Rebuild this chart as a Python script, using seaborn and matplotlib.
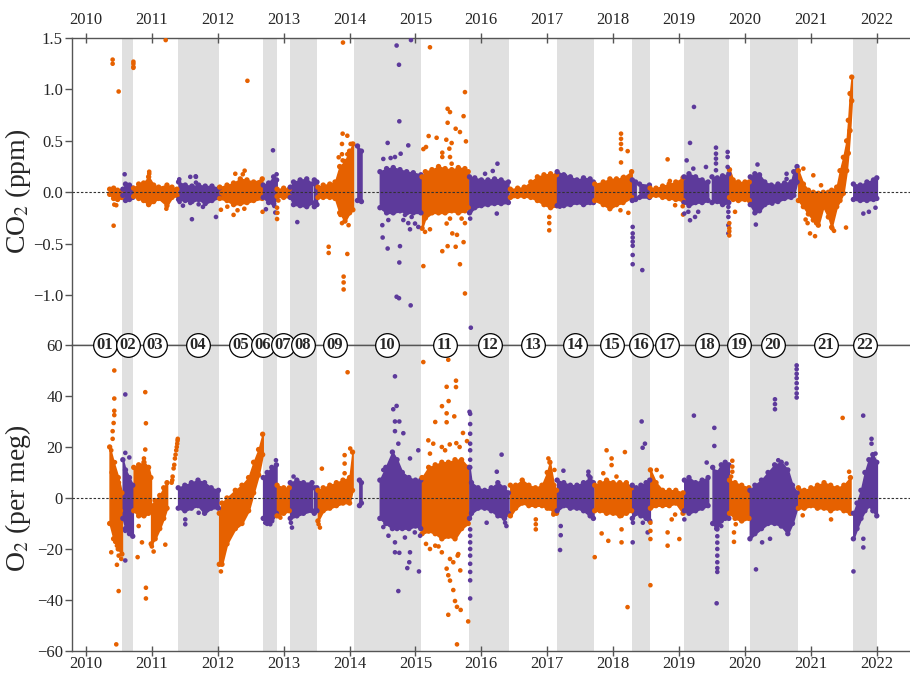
import bisect
import numpy as np
import pandas as pd
import matplotlib
matplotlib.use("Agg")
import matplotlib.pyplot as plt
from matplotlib.ticker import FuncFormatter
import seaborn as sns

# ---------------- data ----------------
YEARS = list(range(2010, 2023))
PERIOD_LABELS = ["%02d" % i for i in range(1, 23)]
# boundaries between periods (decimal year); period i spans BOUNDS[i-1]..BOUNDS[i]
BOUNDS = [2010.30, 2010.551, 2010.713, 2011.396, 2012.014, 2012.686, 2012.898,
          2013.096, 2013.510, 2014.062, 2015.083, 2015.816, 2016.419, 2017.143,
          2017.709, 2018.285, 2018.558, 2019.074, 2019.757, 2020.071, 2020.804,
          2021.643, 2022.003]
LABEL_T = [2010.288, 2010.633, 2011.047, 2011.700, 2012.352, 2012.686, 2012.989,
           2013.293, 2013.778, 2014.568, 2015.448, 2016.131, 2016.783, 2017.421,
           2017.982, 2018.422, 2018.816, 2019.423, 2019.909, 2020.425, 2021.229,
           2021.821]

# CO2 residual core band (time nodes, lower and upper edge), segments split by None
CO2_T = [
    2010.36, 2010.42, 2010.48, 2010.545, None,
    2010.56, 2010.60, 2010.66, 2010.71, None,
    2010.723, 2010.80, 2010.875, 2010.951, 2011.027, 2011.103, 2011.229, 2011.305, 2011.38, None,
    2011.406, 2011.507, 2011.608, 2011.71, 2011.81, 2011.912, 2012.02, None,
    2012.03, 2012.14, 2012.24, 2012.342, 2012.443, 2012.544, 2012.675, None,
    2012.69, 2012.772, 2012.848, 2012.893, None,
    2012.90, 2013.0, 2013.085, None,
    2013.10, 2013.15, 2013.25, 2013.35, 2013.43, None,
    2013.465, 2013.505, None,
    2013.52, 2013.60, 2013.70, 2013.78, 2013.85, 2013.93, 2014.0, 2014.05, None,
    2014.12, 2014.18, None,
    2014.461, 2014.562, 2014.663, 2014.765, 2014.866, 2014.967, 2015.083, None,
    2015.10, 2015.15, 2015.25, 2015.35, 2015.45, 2015.55, 2015.65, 2015.75, 2015.80, None,
    2015.82, 2015.9, 2016.0, 2016.1, 2016.2, 2016.3, 2016.41, None,
    2016.44, 2016.55, 2016.65, 2016.75, 2016.85, 2016.95, 2017.05, 2017.14, None,
    2017.15, 2017.25, 2017.35, 2017.45, 2017.55, 2017.65, 2017.70, None,
    2017.72, 2017.85, 2017.95, 2018.05, 2018.15, 2018.28, None,
    2018.29, 2018.34, None,
    2018.40, 2018.55, None,
    2018.56, 2018.65, 2018.75, 2018.85, 2018.95, 2019.06, None,
    2019.075, 2019.15, 2019.25, 2019.35, 2019.44, None,
    2019.50, 2019.58, 2019.66, 2019.755, None,
    2019.765, 2019.82, 2019.9, 2020.0, 2020.065, None,
    2020.08, 2020.15, 2020.22, 2020.30, 2020.40, 2020.50, 2020.60, 2020.70, 2020.74, 2020.79, None,
    2020.81, 2020.886, 2020.962, 2021.037, 2021.113, 2021.189, 2021.265, 2021.315, 2021.392, 2021.442, 2021.493, 2021.543, 2021.568, 2021.594, 2021.62, None,
    2021.645, 2021.75, 2021.85, 2021.95, 2022.0,
]
CO2_LO = [
    -0.02, -0.06, -0.07, -0.05, None,
    -0.03, -0.08, -0.07, -0.05, None,
    -0.04, -0.06, -0.08, -0.12, -0.09, -0.06, -0.13, -0.05, -0.03, None,
    -0.07, -0.08, -0.09, -0.07, -0.11, -0.08, -0.05, None,
    -0.06, -0.08, -0.12, -0.11, -0.10, -0.08, -0.06, None,
    -0.05, -0.10, -0.11, -0.06, None,
    -0.04, -0.05, -0.04, None,
    -0.05, -0.12, -0.13, -0.14, -0.10, None,
    -0.14, -0.12, None,
    -0.05, -0.05, -0.05, -0.06, -0.20, -0.28, -0.20, -0.17, None,
    -0.08, -0.09, None,
    -0.15, -0.20, -0.20, -0.18, -0.20, -0.20, -0.20, None,
    -0.35, -0.25, -0.20, -0.20, -0.20, -0.18, -0.20, -0.18, -0.15, None,
    -0.20, -0.15, -0.13, -0.12, -0.11, -0.11, -0.10, None,
    -0.05, -0.04, -0.04, -0.05, -0.08, -0.12, -0.15, -0.13, None,
    -0.13, -0.13, -0.12, -0.10, -0.12, -0.10, -0.10, None,
    -0.08, -0.12, -0.16, -0.12, -0.10, -0.05, None,
    -0.08, -0.07, None,
    -0.05, -0.05, None,
    -0.04, -0.03, -0.05, -0.06, -0.07, -0.08, None,
    -0.10, -0.13, -0.10, -0.10, -0.08, None,
    -0.10, -0.09, -0.12, -0.10, None,
    -0.05, -0.07, -0.08, -0.07, -0.08, None,
    -0.12, -0.20, -0.18, -0.12, -0.10, -0.09, -0.06, -0.05, -0.03, 0.10, None,
    -0.08, -0.14, -0.21, -0.27, -0.32, -0.14, -0.24, -0.34, -0.14, -0.08, -0.01, 0.21, 0.38, 0.60, 0.89, None,
    -0.07, -0.08, -0.08, -0.07, -0.06,
]
CO2_HI = [
    0.03, 0.04, 0.02, 0.01, None,
    0.03, 0.08, 0.07, 0.04, None,
    0.04, 0.08, 0.09, 0.15, 0.07, 0.05, 0.07, 0.05, 0.03, None,
    0.10, 0.07, 0.06, 0.07, 0.06, 0.06, 0.04, None,
    0.05, 0.07, 0.09, 0.13, 0.12, 0.10, 0.13, None,
    0.07, 0.09, 0.15, 0.12, None,
    0.03, 0.04, 0.03, None,
    0.05, 0.10, 0.12, 0.13, 0.08, None,
    0.12, 0.10, None,
    0.05, 0.07, 0.08, 0.10, 0.25, 0.30, 0.40, 0.47, None,
    0.45, 0.40, None,
    0.20, 0.23, 0.24, 0.22, 0.20, 0.19, 0.17, None,
    0.15, 0.20, 0.22, 0.25, 0.23, 0.22, 0.24, 0.23, 0.20, None,
    0.15, 0.14, 0.12, 0.12, 0.13, 0.12, 0.10, None,
    0.03, 0.04, 0.05, 0.10, 0.15, 0.17, 0.18, 0.17, None,
    0.20, 0.17, 0.15, 0.12, 0.14, 0.13, 0.10, None,
    0.08, 0.10, 0.13, 0.13, 0.14, 0.20, None,
    0.12, 0.10, None,
    0.08, 0.07, None,
    0.04, 0.04, 0.06, 0.08, 0.10, 0.14, None,
    0.15, 0.18, 0.15, 0.12, 0.10, None,
    0.15, 0.14, 0.16, 0.18, None,
    0.22, 0.12, 0.10, 0.10, 0.10, None,
    0.15, 0.18, 0.17, 0.10, 0.07, 0.08, 0.09, 0.10, 0.20, 0.25, None,
    0.21, 0.08, 0.02, 0.00, -0.01, 0.00, 0.00, 0.02, 0.05, 0.21, 0.34, 0.50, 0.70, 0.96, 1.12, None,
    0.08, 0.07, 0.10, 0.12, 0.14,
]

# CO2 individual scattered points
CO2_PT_T = [
    2010.43, 2010.46, 2010.42, 2010.405, 2010.405, 2010.496,
    2010.587,
    2010.72, 2010.72, 2010.72, 2010.72, 2010.96, 2010.96, 2011.22, 2011.21,
    2011.421, 2011.472, 2011.583, 2011.669, 2011.669, 2011.416, 2011.608, 2011.71, 2011.775, 2011.836, 2011.973, 2011.583, 2011.665,
    2012.266, 2012.408, 2012.048, 2012.145, 2012.24, 2012.30, 2012.403, 2012.68, 2012.45, 2012.38,
    2012.731, 2012.858, 2012.873, 2012.838, 2012.893,
    2012.90, 2012.905, 2012.90, 2012.92,
    2013.207,
    2013.683, 2013.683, 2013.895, 2013.966, 2014.016, 2013.885, 2013.885, 2013.835, 2013.895, 2013.966, 2013.966, 2013.91, 2013.91, 2013.91, 2013.86, 2013.885, 2013.985, 2013.90,
    2014.714, 2014.75, 2014.755, 2014.578, 2014.891, 2014.775, 2014.512, 2014.623, 2014.689, 2014.497, 2014.502, 2014.578, 2014.765, 2014.755, 2014.714, 2014.75, 2014.927, 2014.816, 2014.891, 2014.942, 2015.043, 2014.917, 2014.993, 2014.588, 2014.841, 2014.932,
    2015.22, 2015.751, 2015.488, 2015.524, 2015.73, 2015.488, 2015.61, 2015.675, 2015.20, 2015.321, 2015.468, 2015.549, 2015.766, 2015.12, 2015.16, 2015.407, 2015.407, 2015.514, 2015.524, 2015.549,
    2015.12, 2015.407, 2015.488, 2015.559, 2015.63, 2015.61, 2015.73, 2015.675, 2015.751, 2015.473, 2015.524, 2015.145, 2015.22, 2015.70, 2015.751,
    2016.244, 2016.173, 2015.83, 2015.83, 2015.84, 2016.234, 2016.056,
    2017.03, 2017.03, 2017.03,
    2017.27, 2017.19,
    2018.119, 2018.119, 2018.119, 2018.119, 2018.119, 2018.22, 2018.23, 2018.16, 2018.11,
    2018.296, 2018.296, 2018.296, 2018.296, 2018.296, 2018.296, 2018.296, 2018.442,
    2018.826, 2018.94, 2019.055, 2019.06, 2018.86,
    2019.226, 2019.166, 2019.115, 2019.216, 2019.408, 2019.56, 2019.56, 2019.56, 2019.56, 2019.56, 2019.737, 2019.737, 2019.737, 2019.166, 2019.242, 2019.08, 2019.14, 2019.748, 2019.748, 2019.748, 2019.748, 2019.748, 2019.29,
    2019.762, 2019.762, 2019.762, 2019.762, 2019.849,
    2020.19, 2020.165, 2020.631, 2020.631, 2020.414, 2020.225,
    2020.886, 2021.037, 2021.154, 2020.92, 2020.987, 2021.063, 2021.326, 2021.351, 2021.533, 2020.95, 2021.08,
    2021.796, 2021.88, 2021.98,
]
CO2_PT_Y = [
    -0.12, -0.126, -0.325, 1.29, 1.25, 0.98,
    0.175,
    1.27, 1.25, 1.22, 1.21, 0.20, 0.18, -0.16, 1.48,
    -0.094, -0.13, 0.15, 0.15, 0.094, 0.126, -0.262, -0.117, -0.142, -0.078, -0.24, -0.104, 0.155,
    0.18, 0.21, -0.17, -0.14, -0.22, -0.175, -0.16, -0.19, 1.084, 0.175,
    -0.165, -0.133, -0.197, 0.408, 0.175,
    -0.15, -0.20, -0.26, -0.08,
    -0.29,
    -0.53, -0.59, 0.57, 0.55, 0.47, 0.47, 0.37, 0.34, 0.31, 0.37, -0.60, -0.82, -0.877, -0.945, -0.22, -0.30, -0.32, 1.456,
    1.427, 1.24, 0.69, 0.48, 0.456, 0.375, 0.324, 0.333, 0.343, -0.32, -0.44, -0.547, -0.524, -0.683, -1.016, -1.03, -1.10, -0.27, -0.30, -0.24, -0.337, -0.36, -0.304, -0.27, -0.22, 1.48,
    1.41, 0.974, 0.812, 0.78, 0.74, 0.676, 0.618, 0.586, 0.547, 0.53, 0.511, 0.479, 0.495, 0.42, 0.44, 0.385, 0.343, 0.424, 0.343, 0.278,
    -0.718, -0.573, -0.524, -0.40, -0.414, -0.53, -0.485, -0.70, -0.984, -0.304, -0.256, -0.385, -0.36, -0.256, -0.30,
    0.278, 0.207, -0.19, -0.256, -1.317, -0.207, 0.18,
    -0.24, -0.30, -0.37,
    0.16, -0.14,
    0.57, 0.52, 0.47, 0.42, 0.29, 0.40, -0.20, 0.15, -0.175,
    -0.337, -0.40, -0.44, -0.48, -0.52, -0.61, -0.70, -0.757,
    0.32, -0.126, -0.136, -0.217, 0.11,
    0.83, 0.48, 0.31, 0.23, 0.246, 0.434, 0.375, 0.327, 0.28, 0.214, 0.392, 0.343, 0.246, -0.272, -0.24, -0.207, -0.19, -0.142, -0.19, -0.24, -0.32, -0.40, -0.19,
    -0.30, -0.35, -0.38, -0.42, -0.19,
    0.27, -0.314, 0.18, 0.13, -0.11, 0.165,
    0.23, 0.165, 0.068, -0.265, -0.40, -0.427, -0.353, -0.375, -0.343, -0.30, -0.30,
    -0.207, -0.19, -0.15,
]

# O2 residual core band
O2_T = [
    2010.36, 2010.42, 2010.49, 2010.545, None,
    2010.56, 2010.60, 2010.66, 2010.71, None,
    2010.725, 2010.80, 2010.88, 2010.95, 2010.985, None,
    2010.99, 2011.05, 2011.12, 2011.18, 2011.23, None,
    2011.40, 2011.5, 2011.6, 2011.7, 2011.8, 2011.9, 2012.01, None,
    2012.023, 2012.064, 2012.14, 2012.266, 2012.367, 2012.468, 2012.544, 2012.62, 2012.681, None,
    2012.69, 2012.75, 2012.82, 2012.89, None,
    2012.90, 2013.0, 2013.085, None,
    2013.10, 2013.2, 2013.3, 2013.43, None,
    2013.465, 2013.505, None,
    2013.52, 2013.6, 2013.7, 2013.8, 2013.9, 2014.0, 2014.045, None,
    2014.15, 2014.18, None,
    2014.46, 2014.55, 2014.65, 2014.72, 2014.8, 2014.9, 2015.0, 2015.08, None,
    2015.10, 2015.2, 2015.3, 2015.4, 2015.5, 2015.6, 2015.7, 2015.8, None,
    2015.82, 2015.85, 2015.95, 2016.05, 2016.15, 2016.25, 2016.35, 2016.41, None,
    2016.44, 2016.52, 2016.62, 2016.72, 2016.82, 2016.92, 2017.0, 2017.04, 2017.1, 2017.14, None,
    2017.15, 2017.25, 2017.35, 2017.45, 2017.55, 2017.65, 2017.70, None,
    2017.72, 2017.8, 2017.9, 2018.0, 2018.1, 2018.2, 2018.28, None,
    2018.29, 2018.35, 2018.42, 2018.5, 2018.555, None,
    2018.565, 2018.65, 2018.75, 2018.85, 2018.95, 2019.06, None,
    2019.08, 2019.15, 2019.25, 2019.35, 2019.44, None,
    2019.51, 2019.57, 2019.64, 2019.70, 2019.755, None,
    2019.765, 2019.85, 2019.95, 2020.06, None,
    2020.075, 2020.15, 2020.25, 2020.35, 2020.45, 2020.55, 2020.65, 2020.72, 2020.79, None,
    2020.81, 2020.9, 2021.0, 2021.1, 2021.2, 2021.3, 2021.4, 2021.5, 2021.6, None,
    2021.645, 2021.70, 2021.76, 2021.82, 2021.88, 2021.94, 2022.0,
]
O2_LO = [
    -10, -16, -20, -22, None,
    -8, -12, -14, -15, None,
    -5, -7, -7, -6, -4, None,
    -18, -16, -12, -8, -4, None,
    -4, -5, -4, -3, -6, -4, -4, None,
    -26, -26, -18, -12, -10, -5, 2, 9, 17, None,
    -8, -10, -9, -6, None,
    -7, -6, -5, None,
    -8, -7, -6, -5, None,
    -6, -5, None,
    -9, -5, -4, -3, -2, -2, 3, None,
    -3, -2, None,
    -8, -10, -12, -12, -12, -12, -11, -12, None,
    -14, -13, -14, -16, -15, -16, -12, -10, None,
    -8, -6, -4, -4, -5, -7, -8, -6, None,
    -7, -4, -2, -3, -3, -3, -4, -4, -6, -6, None,
    -5, -3, -4, -4, -5, -7, -8, None,
    -5, -5, -6, -6, -7, -6, -5, None,
    -8, -6, -7, -8, -9, None,
    -4, -3, -3, -3, -2, -6, None,
    -5, -6, -5, -4, -3, None,
    -10, -12, -9, -8, -8, None,
    -6, -8, -9, -8, None,
    -16, -14, -12, -10, -10, -11, -14, -10, -4, None,
    -4, -4, -3, -4, -4, -5, -4, -5, -6, None,
    -16, -12, -8, -5, -3, -5, -7,
]
O2_HI = [
    20, 14, 8, 2, None,
    15, 11, 8, 5, None,
    12, 13, 14, 12, 8, None,
    -3, -1, 1, 4, 6, None,
    4, 5, 6, 7, 6, 4, 3, None,
    -6, -2, 0, 3, 5, 8, 14, 19, 25, None,
    8, 10, 12, 13, None,
    5, 4, 4, None,
    6, 7, 6, 6, None,
    4, 4, None,
    3, 4, 5, 6, 7, 8, 18, None,
    7, 6, None,
    7, 12, 18, 15, 10, 8, 7, 7, None,
    8, 12, 13, 14, 14, 15, 15, 12, None,
    12, 6, 4, 3, 4, 6, 4, 2, None,
    5, 5, 7, 5, 4, 5, 10, 14, 5, 3, None,
    7, 6, 5, 5, 6, 8, 6, None,
    5, 6, 7, 6, 6, 6, 4, None,
    5, 4, 5, 6, 7, None,
    11, 6, 3, 3, 3, 2, None,
    7, 8, 6, 7, 8, None,
    12, 10, 13, 14, 13, None,
    7, 6, 5, 4, None,
    3, 5, 7, 10, 13, 14, 11, 5, 2, None,
    4, 3, 4, 5, 6, 5, 4, 5, 8, None,
    -6, -2, 3, 10, 15, 17, 14,
]

# O2 individual scattered points
O2_PT_T = [
    2010.43, 2010.43, 2010.43, 2010.43, 2010.42, 2010.405, 2010.405, 2010.384, 2010.445, 2010.384, 2010.47, 2010.52, 2010.496, 2010.536, 2010.47, 2010.496, 2010.46, 2010.44, 2010.39, 2010.50, 2010.53,
    2010.597, 2010.597, 2010.597, 2010.658, 2010.597,
    2010.90, 2010.91, 2010.90, 2010.85, 2010.784, 2010.91, 2010.91, 2010.88, 2010.80, 2011.027, 2011.204, 2011.0,
    2011.30, 2011.31, 2011.315, 2011.33, 2011.34, 2011.35, 2011.36, 2011.37, 2011.378, 2011.385, 2011.39, 2011.393,
    2011.507, 2011.507, 2011.71,
    2012.048,
    2012.883, 2012.72, 2012.797,
    2012.95,
    2013.126, 2013.11, 2013.15,
    2013.58, 2013.925, 2013.925, 2013.925, 2014.01, 2013.97, 2013.53, 2013.55,
    2014.689, 2014.714, 2014.663, 2014.689, 2014.755, 2014.689, 2014.816, 2014.74, 2015.043, 2014.917, 2014.512, 2014.512, 2014.689, 2014.689, 2014.755, 2014.917, 2014.906, 2014.876, 2015.053, 2014.74, 2014.59, 2014.84, 2014.99, 2015.07,
    2015.119, 2015.498, 2015.615, 2015.615, 2015.473, 2015.503, 2015.402, 2015.473, 2015.473, 2015.589, 2015.30, 2015.721, 2015.782, 2015.195, 2015.27, 2015.40, 2015.52, 2015.62, 2015.67, 2015.22, 2015.45,
    2015.473, 2015.498, 2015.524, 2015.574, 2015.60, 2015.63, 2015.686, 2015.498, 2015.80, 2015.63, 2015.64, 2015.68, 2015.22, 2015.30, 2015.40, 2015.524, 2015.574, 2015.65, 2015.35, 2015.16,
    2015.83, 2015.83, 2015.83, 2015.83, 2015.83, 2015.83, 2015.83, 2015.83, 2015.83, 2015.83, 2015.83, 2015.83, 2015.83, 2015.83, 2015.83, 2015.83, 2015.82, 2016.307, 2016.234, 2016.08, 2016.38, 2016.36,
    2016.826, 2016.826, 2016.826, 2017.093, 2017.109, 2017.017,
    2017.245, 2017.204, 2017.204, 2017.194, 2017.624, 2017.624,
    2017.90, 2018.178, 2017.976, 2017.976, 2017.825, 2017.926, 2017.72, 2018.218, 2018.127, 2018.127, 2018.127, 2018.05, 2017.85,
    2018.432, 2018.447, 2018.482, 2018.296, 2018.523, 2018.30, 2018.45,
    2018.565, 2018.565, 2018.565, 2018.565, 2018.826, 2018.826, 2019.004, 2018.888, 2018.94, 2018.735, 2018.66,
    2019.225, 2019.535, 2019.535, 2019.419, 2019.57, 2019.58, 2019.58, 2019.58, 2019.58, 2019.58, 2019.58, 2019.58, 2019.58, 2019.64, 2019.08, 2019.14,
    2019.808, 2019.808, 2019.808, 2019.833, 2019.833, 2019.86, 2019.79,
    2020.167, 2020.455, 2020.455, 2020.455, 2020.784, 2020.784, 2020.784, 2020.784, 2020.784, 2020.784, 2020.784, 2020.784, 2020.505, 2020.63, 2020.26, 2020.38,
    2021.482, 2021.58, 2021.306, 2020.876,
    2021.794, 2021.92, 2021.646, 2021.796, 2021.796, 2021.92, 2021.98,
]
O2_PT_Y = [
    50, 39, 34.2, 32.5, 29.4, 26.2, 23.2, 18.7, -17.2, -21.3, -18.7, -20, -22.6, -23.9, -26.2, -36.5, -57.4, 14, 10, 6, -5,
    40.6, -24.5, -12.9, 15.9, 17.7,
    41.5, 29.3, 19, -17.4, -23.2, -35.2, -39.4, 15.5, -11, -21, -18.3, -19,
    6, 7, 8.4, 11.6, 13, 15.5, 17, 18.7, 20, 21.3, 22.5, 23.2,
    -8.4, -10.3, -5.8,
    -28.8,
    14.8, -9.7, -10.3,
    -7.7,
    -11.6, -9.7, 8.4,
    11.5, 16.8, 13.5, 9.7, 19.4, 49.3, -10.3, -11.6,
    47.7, 36.1, 34.8, 30, 30, 26.2, 25.4, 21.3, 18.7, 15.5, 11, -11.4, -17.4, -21.3, -21.5, -21.3, -25.2, -27.5, -28.8, -36.5, -14.8, -15.5, -13.5, -14.8,
    53.3, 54.2, 46, 43.5, 43.6, 38, 36, 33.2, 29.7, 32, 29.8, 25.5, 22.3, 22.6, 21.3, 20, 21, 21.5, 20, 17.4, 18.7,
    -27.7, -30.3, -32.4, -36.1, -40.4, -42.7, -43.9, -45.8, -48.4, -57.4, -22.6, -28.4, -20, -18.7, -21.3, -23.9, -25.2, -22, -19, -18,
    33, 29, 25.2, 21.3, 18.7, 15, 12, -12.3, -14.8, -17.4, -20, -22.6, -25.8, -29, -32.3, -39.4, 33.8, 17, 10.3, -9.7, -11, -9.7,
    -8.4, -10.3, -12.3, -6.5, 11, 15.5,
    10.7, -11, -14.6, -20.4, 10.3, 9,
    18.7, 18, 15.5, 12.9, -13.9, -16.8, -23.2, -42.8, -7, -12.3, -17.4, 8.4, 9.7,
    30, 19.7, 21.3, -17.4, -13.5, -9.7, -9.7,
    -9.7, -12.9, -16.1, -34.2, -13.5, -18.7, -16.1, -8.4, -6.5, 8.4, 11,
    32.3, 27.5, 20.4, 13.9, -41.3, -12.3, -15, -17.5, -20, -22.6, -25.2, -27.5, -29, -11, -8.4, -5.2,
    14.6, 12.3, 10.3, -17.2, -13.5, -10.3, 8.4,
    -28, 38.7, 36.8, 34.8, 52, 50.5, 48.7, 47, 45, 43, 41, 39.4, 14.8, 13.5, -17.4, -16,
    31.4, 10.3, -8.4, -6.8,
    32.3, 23.2, -28.8, -19.4, -16, 21.3, 17.4,
]

ORANGE = "#E66100"
PURPLE = "#5D3A9B"
SHADE = "#E0E0E0"


# ---------------- helpers ----------------
def period_of(t):
    return min(max(bisect.bisect_right(BOUNDS, t), 1), 22)


def segments(ts, los, his):
    segs, cur = [], ([], [], [])
    for t, lo, hi in zip(ts, los, his):
        if t is None:
            if cur[0]:
                segs.append(cur)
            cur = ([], [], [])
        else:
            cur[0].append(t); cur[1].append(lo); cur[2].append(hi)
    if cur[0]:
        segs.append(cur)
    return segs


def draw_bands(ax, ts, los, his):
    rows = []
    for t, lo, hi in segments(ts, los, his):
        p = period_of(float(np.mean(t)))
        c = ORANGE if p % 2 == 1 else PURPLE
        ax.fill_between(t, lo, hi, color=c, edgecolor=c, linewidth=1.2, zorder=2)
        grp = "odd" if p % 2 == 1 else "even"
        for ti, a, b in zip(t, lo, hi):
            rows.append((ti, a, grp))
            rows.append((ti, b, grp))
    # beaded band edges, drawn from the same edge nodes
    edge = pd.DataFrame(rows, columns=["t", "y", "group"])
    sns.scatterplot(data=edge, x="t", y="y", hue="group",
                    palette={"odd": ORANGE, "even": PURPLE}, s=15, linewidth=0,
                    legend=False, ax=ax, zorder=2.2)


def points_frame(ts, ys):
    df = pd.DataFrame({"t": ts, "y": ys})
    df["group"] = ["odd" if period_of(t) % 2 == 1 else "even" for t in df["t"]]
    return df


def minus_fmt(fmt):
    return FuncFormatter(lambda v, pos: (fmt % v).replace("-", "\u2212"))


# ---------------- figure ----------------
sns.set_theme(style="white")
SERIF = ["Liberation Serif", "STIXGeneral", "DejaVu Serif"]
plt.rcParams["font.family"] = SERIF
plt.rcParams["mathtext.fontset"] = "stix"

fig = plt.figure(figsize=(9.10, 6.73), dpi=100)
ax1 = fig.add_axes([0.0791, 0.4874, 0.9209, 0.4561])
ax2 = fig.add_axes([0.0791, 0.0327, 0.9209, 0.4547])

XLIM = (2009.788, 2022.504)
SPINE = "#555555"

for ax in (ax1, ax2):
    for i in range(1, 23):
        if i % 2 == 0:
            ax.axvspan(BOUNDS[i - 1], BOUNDS[i], color=SHADE, lw=0, zorder=0)
    ax.axhline(0, color="#333333", lw=0.8, ls=(0, (2.2, 1.6)), zorder=4)
    ax.set_xlim(*XLIM)
    ax.set_xticks(YEARS)
    ax.set_xticklabels([str(y) for y in YEARS])
    ax.spines["right"].set_visible(False)
    for s in ("left", "top", "bottom"):
        ax.spines[s].set_color(SPINE)
        ax.spines[s].set_linewidth(1.0)
    ax.tick_params(axis="y", direction="out", length=5, width=1, color=SPINE,
                   labelsize=12, pad=1.5, left=True)
    ax.tick_params(axis="x", direction="inout", length=7, width=1, color=SPINE,
                   labelsize=12)
    ax.grid(False)

# --- CO2 panel ---
draw_bands(ax1, CO2_T, CO2_LO, CO2_HI)
sns.scatterplot(data=points_frame(CO2_PT_T, CO2_PT_Y), x="t", y="y", hue="group",
                palette={"odd": ORANGE, "even": PURPLE}, s=11, linewidth=0,
                legend=False, ax=ax1, zorder=3)
ax1.set_ylim(-1.485, 1.5)
ax1.set_yticks([-1.0, -0.5, 0.0, 0.5, 1.0, 1.5])
ax1.yaxis.set_major_formatter(minus_fmt("%.1f"))
ax1.xaxis.tick_top()
ax1.tick_params(axis="x", top=True, bottom=False, labeltop=True, labelbottom=False, pad=4)
ax1.set_xlabel("")
ax1.set_ylabel("CO$_2$ (ppm)", fontsize=20)
ax1.yaxis.set_label_coords(-0.047, 0.5)

# --- O2 panel ---
draw_bands(ax2, O2_T, O2_LO, O2_HI)
sns.scatterplot(data=points_frame(O2_PT_T, O2_PT_Y), x="t", y="y", hue="group",
                palette={"odd": ORANGE, "even": PURPLE}, s=11, linewidth=0,
                legend=False, ax=ax2, zorder=3)
ax2.set_ylim(-60, 60)
ax2.set_yticks([-60, -40, -20, 0, 20, 40, 60])
ax2.yaxis.set_major_formatter(minus_fmt("%d"))
ax2.tick_params(axis="x", top=False, bottom=True, labeltop=False, labelbottom=True, pad=0)
ax2.set_xlabel("")
ax2.set_ylabel("O$_2$ (per meg)", fontsize=20)
ax2.yaxis.set_label_coords(-0.047, 0.5)

# --- period labels on the boundary line ---
ax2.scatter(LABEL_T, [60] * len(LABEL_T), s=290, facecolor="white",
            edgecolor="black", linewidth=0.9, clip_on=False, zorder=10)
for t, lab in zip(LABEL_T, PERIOD_LABELS):
    ax2.text(t, 60, lab, ha="center", va="center", fontsize=12,
             fontweight="bold", clip_on=False, zorder=11)

fig.savefig("out.png", dpi=100)
